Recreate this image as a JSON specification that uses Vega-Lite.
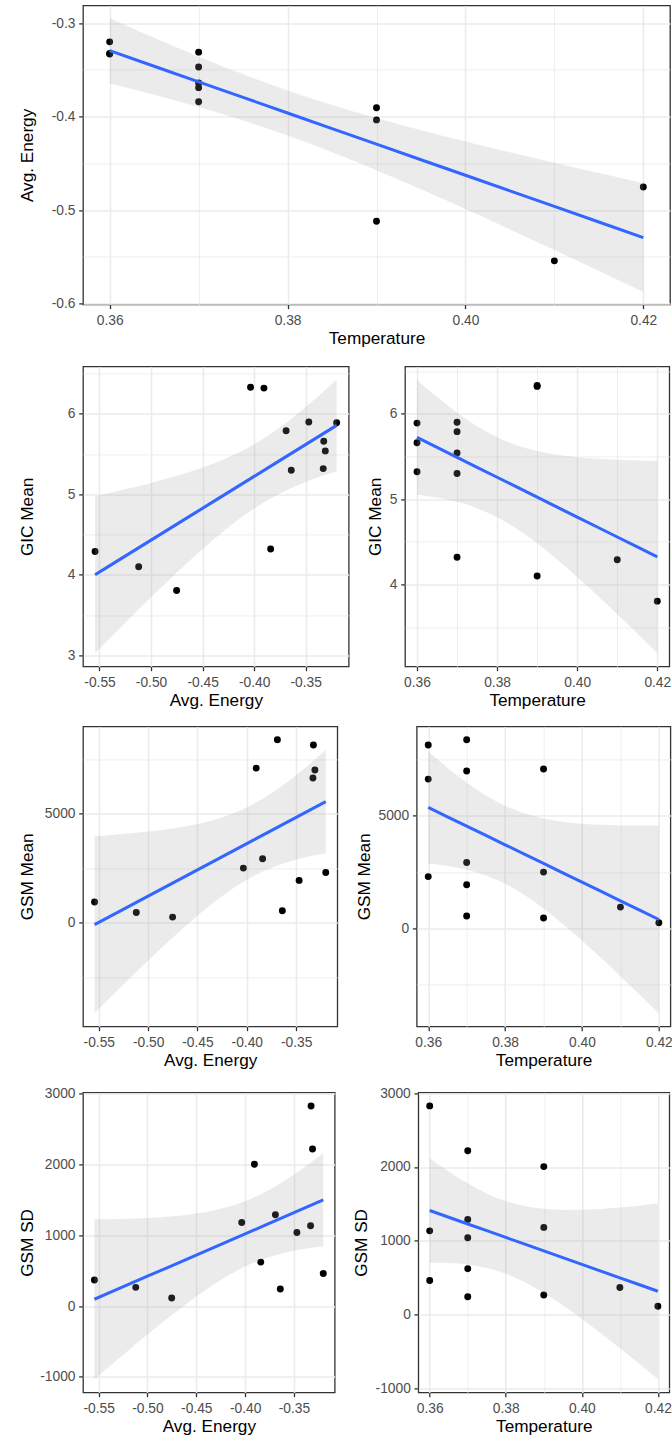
{
  "$schema": "https://vega.github.io/schema/vega-lite/v6.json",
  "background": "white",
  "padding": {"left": 17, "top": 4.4, "right": 2, "bottom": 2},
  "spacing": 8,
  "config": {
    "font": "Liberation Sans",
    "view": {"stroke": "#333333", "strokeWidth": 1.3},
    "axis": {
      "domain": false, "grid": true, "gridColor": "#EBEBEB",
      "tickColor": "#333333", "tickWidth": 1.3, "tickSize": 4.3,
      "labelColor": "#4D4D4D", "labelFontSize": 13.8, "labelFont": "Liberation Sans",
      "labelOverlap": false, "labelFlush": false,
      "titleFont": "Liberation Sans", "titleFontSize": 17.2, "titleFontWeight": "normal", "titleColor": "#000000",
      "titleBaseline": "alphabetic"
    },
    "axisX": {"labelPadding": 5, "titleY": 39, "labelAngle": 0},
    "axisY": {"labelPadding": 3.7}
  },
  "datasets": {
    "pts": [
      {"Temperature": 0.36, "Energy": -0.3325, "GIC": 5.66, "GSM": 8140, "SD": 2828},
      {"Temperature": 0.36, "Energy": -0.333, "GIC": 5.32, "GSM": 6630, "SD": 1134},
      {"Temperature": 0.36, "Energy": -0.32, "GIC": 5.89, "GSM": 2300, "SD": 461},
      {"Temperature": 0.37, "Energy": -0.331, "GIC": 5.54, "GSM": 6990, "SD": 2221},
      {"Temperature": 0.37, "Energy": -0.347, "GIC": 5.9, "GSM": 1937, "SD": 1040},
      {"Temperature": 0.37, "Energy": -0.369, "GIC": 5.79, "GSM": 8380, "SD": 1289},
      {"Temperature": 0.37, "Energy": -0.364, "GIC": 5.3, "GSM": 548, "SD": 240},
      {"Temperature": 0.37, "Energy": -0.384, "GIC": 4.32, "GSM": 2928, "SD": 621},
      {"Temperature": 0.39, "Energy": -0.3905, "GIC": 6.32, "GSM": 7080, "SD": 2005},
      {"Temperature": 0.39, "Energy": -0.4035, "GIC": 6.33, "GSM": 2500, "SD": 1181},
      {"Temperature": 0.39, "Energy": -0.512, "GIC": 4.1, "GSM": 466, "SD": 264},
      {"Temperature": 0.41, "Energy": -0.5543, "GIC": 4.29, "GSM": 946, "SD": 367},
      {"Temperature": 0.42, "Energy": -0.4752, "GIC": 3.806, "GSM": 255, "SD": 113}
    ],
    "bandT": [
      {"Temperature": 0.360, "e_fit": -0.32944, "e_lo": -0.36417, "e_hi": -0.29472, "g_fit": 5.7226, "g_lo": 5.0505, "g_hi": 6.3946, "m_fit": 5371.2, "m_lo": 2880.6, "m_hi": 7861.8, "s_fit": 1409.6, "s_lo": 700.0, "s_hi": 2119.2},
      {"Temperature": 0.365, "e_fit": -0.34611, "e_lo": -0.37650, "e_hi": -0.31571, "g_fit": 5.6060, "g_lo": 5.0178, "g_hi": 6.1943, "m_fit": 4956.7, "m_lo": 2776.7, "m_hi": 7136.7, "s_fit": 1318.4, "s_lo": 697.3, "s_hi": 1939.5},
      {"Temperature": 0.370, "e_fit": -0.36277, "e_lo": -0.38972, "e_hi": -0.33583, "g_fit": 5.4895, "g_lo": 4.9680, "g_hi": 6.0110, "m_fit": 4542.2, "m_lo": 2609.5, "m_hi": 6474.8, "s_fit": 1227.2, "s_lo": 676.6, "s_hi": 1777.8},
      {"Temperature": 0.375, "e_fit": -0.37944, "e_lo": -0.40419, "e_hi": -0.35469, "g_fit": 5.3729, "g_lo": 4.8939, "g_hi": 5.8520, "m_fit": 4127.7, "m_lo": 2352.4, "m_hi": 5902.9, "s_fit": 1136.0, "s_lo": 630.2, "s_hi": 1641.7},
      {"Temperature": 0.380, "e_fit": -0.39610, "e_lo": -0.42026, "e_hi": -0.37195, "g_fit": 5.2564, "g_lo": 4.7889, "g_hi": 5.7239, "m_fit": 3713.2, "m_lo": 1980.7, "m_hi": 5445.6, "s_fit": 1044.7, "s_lo": 551.2, "s_hi": 1538.3},
      {"Temperature": 0.385, "e_fit": -0.41277, "e_lo": -0.43804, "e_hi": -0.38750, "g_fit": 5.1398, "g_lo": 4.6508, "g_hi": 5.6289, "m_fit": 3298.6, "m_lo": 1486.2, "m_hi": 5111.1, "s_fit": 953.5, "s_lo": 437.2, "s_hi": 1469.9},
      {"Temperature": 0.390, "e_fit": -0.42943, "e_lo": -0.45732, "e_hi": -0.40154, "g_fit": 5.0233, "g_lo": 4.4835, "g_hi": 5.5631, "m_fit": 2884.1, "m_lo": 883.6, "m_hi": 4884.6, "s_fit": 862.3, "s_lo": 292.4, "s_hi": 1432.3},
      {"Temperature": 0.395, "e_fit": -0.44610, "e_lo": -0.47774, "e_hi": -0.41445, "g_fit": 4.9067, "g_lo": 4.2942, "g_hi": 5.5192, "m_fit": 2469.6, "m_lo": 199.7, "m_hi": 4739.5, "s_fit": 771.1, "s_lo": 124.4, "s_hi": 1417.8},
      {"Temperature": 0.400, "e_fit": -0.46276, "e_lo": -0.49895, "e_hi": -0.42657, "g_fit": 4.7902, "g_lo": 4.0898, "g_hi": 5.4905, "m_fit": 2055.1, "m_lo": -540.4, "m_hi": 4650.6, "s_fit": 679.9, "s_lo": -59.6, "s_hi": 1419.3},
      {"Temperature": 0.405, "e_fit": -0.47943, "e_lo": -0.52068, "e_hi": -0.43817, "g_fit": 4.6736, "g_lo": 3.8752, "g_hi": 5.4720, "m_fit": 1640.6, "m_lo": -1318.2, "m_hi": 4599.4, "s_fit": 588.7, "s_lo": -254.3, "s_hi": 1431.6},
      {"Temperature": 0.410, "e_fit": -0.49609, "e_lo": -0.54276, "e_hi": -0.44942, "g_fit": 4.5571, "g_lo": 3.6538, "g_hi": 5.4603, "m_fit": 1226.1, "m_lo": -2121.4, "m_hi": 4573.6, "s_fit": 497.5, "s_lo": -456.2, "s_hi": 1451.2},
      {"Temperature": 0.415, "e_fit": -0.51275, "e_lo": -0.56509, "e_hi": -0.46042, "g_fit": 4.4405, "g_lo": 3.4276, "g_hi": 5.4534, "m_fit": 811.6, "m_lo": -2942.1, "m_hi": 4565.3, "s_fit": 406.2, "s_lo": -663.2, "s_hi": 1475.7},
      {"Temperature": 0.420, "e_fit": -0.52942, "e_lo": -0.58759, "e_hi": -0.47125, "g_fit": 4.3240, "g_lo": 3.1981, "g_hi": 5.4498, "m_fit": 397.1, "m_lo": -3775.2, "m_hi": 4569.4, "s_fit": 315.0, "s_lo": -873.7, "s_hi": 1503.8}
    ],
    "bandE": [
      {"Energy": -0.5543, "g_fit": 4.0007, "g_lo": 3.0258, "g_hi": 4.9756, "m_fit": -87.6, "m_lo": -4136.5, "m_hi": 3961.2, "s_fit": 95.7, "s_lo": -1033.6, "s_hi": 1225.0},
      {"Energy": -0.54, "g_fit": 4.1140, "g_lo": 3.2108, "g_hi": 5.0172, "m_fit": 256.1, "m_lo": -3494.9, "m_hi": 4007.2, "s_fit": 181.4, "s_lo": -864.8, "s_hi": 1227.6},
      {"Energy": -0.52, "g_fit": 4.2724, "g_lo": 3.4672, "g_hi": 5.0777, "m_fit": 736.9, "m_lo": -2607.4, "m_hi": 4081.2, "s_fit": 301.2, "s_lo": -631.6, "s_hi": 1234.0},
      {"Energy": -0.50, "g_fit": 4.4309, "g_lo": 3.7198, "g_hi": 5.1420, "m_fit": 1217.7, "m_lo": -1735.5, "m_hi": 4170.9, "s_fit": 421.0, "s_lo": -402.7, "s_hi": 1244.7},
      {"Energy": -0.48, "g_fit": 4.5893, "g_lo": 3.9670, "g_hi": 5.2117, "m_fit": 1698.5, "m_lo": -886.4, "m_hi": 4283.3, "s_fit": 540.8, "s_lo": -180.1, "s_hi": 1261.8},
      {"Energy": -0.46, "g_fit": 4.7478, "g_lo": 4.2059, "g_hi": 5.2896, "m_fit": 2179.3, "m_lo": -71.1, "m_hi": 4429.6, "s_fit": 660.6, "s_lo": 33.0, "s_hi": 1288.3},
      {"Energy": -0.44, "g_fit": 4.9062, "g_lo": 4.4325, "g_hi": 5.3799, "m_fit": 2660.0, "m_lo": 692.8, "m_hi": 4627.3, "s_fit": 780.4, "s_lo": 231.7, "s_hi": 1329.1},
      {"Energy": -0.42, "g_fit": 5.0647, "g_lo": 4.6408, "g_hi": 5.4885, "m_fit": 3140.8, "m_lo": 1380.4, "m_hi": 4901.2, "s_fit": 900.3, "s_lo": 409.3, "s_hi": 1391.3},
      {"Energy": -0.40, "g_fit": 5.2231, "g_lo": 4.8238, "g_hi": 5.6225, "m_fit": 3621.6, "m_lo": 1963.0, "m_hi": 5280.2, "s_fit": 1020.1, "s_lo": 557.5, "s_hi": 1482.7},
      {"Energy": -0.38, "g_fit": 5.3816, "g_lo": 4.9768, "g_hi": 5.7863, "m_fit": 4102.4, "m_lo": 2421.4, "m_hi": 5783.4, "s_fit": 1139.9, "s_lo": 671.0, "s_hi": 1608.7},
      {"Energy": -0.36, "g_fit": 5.5400, "g_lo": 5.1011, "g_hi": 5.9790, "m_fit": 4583.1, "m_lo": 2760.1, "m_hi": 6406.2, "s_fit": 1259.7, "s_lo": 751.2, "s_hi": 1768.2},
      {"Energy": -0.34, "g_fit": 5.6985, "g_lo": 5.2024, "g_hi": 6.1945, "m_fit": 5063.9, "m_lo": 3003.8, "m_hi": 7124.1, "s_fit": 1379.5, "s_lo": 804.9, "s_hi": 1954.1},
      {"Energy": -0.32, "g_fit": 5.8569, "g_lo": 5.2877, "g_hi": 6.4261, "m_fit": 5544.7, "m_lo": 3180.8, "m_hi": 7908.6, "s_fit": 1499.3, "s_lo": 840.0, "s_hi": 2158.6}
    ]
  },
  "vconcat": [
    {
      "width": 587, "height": 299,
      "layer": [
        {"data": {"name": "pts"}, "mark": {"type": "point", "filled": true, "color": "#000000", "size": 48, "opacity": 1, "strokeWidth": 0},
         "encoding": {
           "x": {"field": "Temperature", "type": "quantitative", "title": "Temperature", "scale": {"domain": [0.357, 0.423], "nice": false, "zero": false},
             "axis": {"values": [0.36, 0.37, 0.38, 0.39, 0.4, 0.41, 0.42],
               "labelExpr": "abs(datum.value*50-round(datum.value*50))>0.1 ? '' : format(datum.value,'.2f')",
               "gridWidth": {"condition": {"test": "abs(datum.value*50-round(datum.value*50))>0.1", "value": 0.8}, "value": 1.5},
               "tickOpacity": {"condition": {"test": "abs(datum.value*50-round(datum.value*50))>0.1", "value": 0}, "value": 1}}},
           "y": {"field": "Energy", "type": "quantitative", "title": "Avg. Energy", "scale": {"domain": [-0.6009, -0.2810], "nice": false, "zero": false},
             "axis": {"titleX": -50.5, "values": [-0.6, -0.55, -0.5, -0.45, -0.4, -0.35, -0.3],
               "labelExpr": "abs(datum.value*10-round(datum.value*10))>0.1 ? '' : '-'+format(abs(datum.value),'.1f')",
               "gridWidth": {"condition": {"test": "abs(datum.value*10-round(datum.value*10))>0.1", "value": 0.8}, "value": 1.5},
               "tickOpacity": {"condition": {"test": "abs(datum.value*10-round(datum.value*10))>0.1", "value": 0}, "value": 1}}}
         }},
        {"data": {"name": "bandT"}, "mark": {"type": "area", "color": "#999999", "opacity": 0.2, "interpolate": "monotone"},
         "encoding": {
           "x": {"field": "Temperature", "type": "quantitative", "title": "Temperature", "scale": {"domain": [0.357, 0.423], "nice": false, "zero": false}},
           "y": {"field": "e_lo", "type": "quantitative", "title": "Avg. Energy", "scale": {"domain": [-0.6009, -0.2810], "nice": false, "zero": false}},
           "y2": {"field": "e_hi"}
         }},
        {"data": {"name": "bandT"}, "mark": {"type": "line", "color": "#3366FF", "strokeWidth": 3},
         "encoding": {
           "x": {"field": "Temperature", "type": "quantitative", "title": "Temperature", "scale": {"domain": [0.357, 0.423], "nice": false, "zero": false}},
           "y": {"field": "e_fit", "type": "quantitative", "title": "Avg. Energy", "scale": {"domain": [-0.6009, -0.2810], "nice": false, "zero": false}}
         }}
      ]
    },
    {
      "bounds": "flush", "spacing": 56,
      "hconcat": [
        {
          "width": 265.7, "height": 300,
          "title": {"text": " ", "fontSize": 1, "offset": 6.5, "frame": "group"},
          "layer": [
            {"data": {"name": "pts"}, "mark": {"type": "point", "filled": true, "color": "#000000", "size": 48, "opacity": 1, "strokeWidth": 0},
             "encoding": {
               "x": {"field": "Energy", "type": "quantitative", "title": "Avg. Energy", "scale": {"domain": [-0.566, -0.3083], "nice": false, "zero": false},
                 "axis": {"values": [-0.55, -0.525, -0.5, -0.475, -0.45, -0.425, -0.4, -0.375, -0.35, -0.325],
                   "labelExpr": "abs(datum.value*20-round(datum.value*20))>0.1 ? '' : '-'+format(abs(datum.value),'.2f')",
                   "gridWidth": {"condition": {"test": "abs(datum.value*20-round(datum.value*20))>0.1", "value": 0.8}, "value": 1.5},
                   "tickOpacity": {"condition": {"test": "abs(datum.value*20-round(datum.value*20))>0.1", "value": 0}, "value": 1}}},
               "y": {"field": "GIC", "type": "quantitative", "title": "GIC Mean", "scale": {"domain": [2.862, 6.59], "nice": false, "zero": false},
                 "axis": {"titleX": -50.5, "values": [3, 3.5, 4, 4.5, 5, 5.5, 6, 6.5],
                   "labelExpr": "abs(datum.value-round(datum.value))>0.1 ? '' : format(datum.value,'.0f')",
                   "gridWidth": {"condition": {"test": "abs(datum.value-round(datum.value))>0.1", "value": 0.8}, "value": 1.5},
                   "tickOpacity": {"condition": {"test": "abs(datum.value-round(datum.value))>0.1", "value": 0}, "value": 1}}}
             }},
            {"data": {"name": "bandE"}, "mark": {"type": "area", "color": "#999999", "opacity": 0.2, "interpolate": "monotone"},
             "encoding": {
               "x": {"field": "Energy", "type": "quantitative", "title": "Avg. Energy", "scale": {"domain": [-0.566, -0.3083], "nice": false, "zero": false}},
               "y": {"field": "g_lo", "type": "quantitative", "title": "GIC Mean", "scale": {"domain": [2.862, 6.59], "nice": false, "zero": false}},
               "y2": {"field": "g_hi"}
             }},
            {"data": {"name": "bandE"}, "mark": {"type": "line", "color": "#3366FF", "strokeWidth": 3},
             "encoding": {
               "x": {"field": "Energy", "type": "quantitative", "title": "Avg. Energy", "scale": {"domain": [-0.566, -0.3083], "nice": false, "zero": false}},
               "y": {"field": "g_fit", "type": "quantitative", "title": "GIC Mean", "scale": {"domain": [2.862, 6.59], "nice": false, "zero": false}}
             }}
          ]
        },
        {
          "width": 264.3, "height": 300,
          "title": {"text": " ", "fontSize": 1, "offset": 6.5, "frame": "group"},
          "layer": [
            {"data": {"name": "pts"}, "mark": {"type": "point", "filled": true, "color": "#000000", "size": 48, "opacity": 1, "strokeWidth": 0},
             "encoding": {
               "x": {"field": "Temperature", "type": "quantitative", "title": "Temperature", "scale": {"domain": [0.357, 0.423], "nice": false, "zero": false},
                 "axis": {"values": [0.36, 0.37, 0.38, 0.39, 0.4, 0.41, 0.42],
                   "labelExpr": "abs(datum.value*50-round(datum.value*50))>0.1 ? '' : format(datum.value,'.2f')",
                   "gridWidth": {"condition": {"test": "abs(datum.value*50-round(datum.value*50))>0.1", "value": 0.8}, "value": 1.5},
                   "tickOpacity": {"condition": {"test": "abs(datum.value*50-round(datum.value*50))>0.1", "value": 0}, "value": 1}}},
               "y": {"field": "GIC", "type": "quantitative", "title": "GIC Mean", "scale": {"domain": [3.042, 6.554], "nice": false, "zero": false},
                 "axis": {"titleX": -24.7, "values": [3.5, 4, 4.5, 5, 5.5, 6, 6.5],
                   "labelExpr": "abs(datum.value-round(datum.value))>0.1 ? '' : format(datum.value,'.0f')",
                   "gridWidth": {"condition": {"test": "abs(datum.value-round(datum.value))>0.1", "value": 0.8}, "value": 1.5},
                   "tickOpacity": {"condition": {"test": "abs(datum.value-round(datum.value))>0.1", "value": 0}, "value": 1}}}
             }},
            {"data": {"name": "bandT"}, "mark": {"type": "area", "color": "#999999", "opacity": 0.2, "interpolate": "monotone"},
             "encoding": {
               "x": {"field": "Temperature", "type": "quantitative", "title": "Temperature", "scale": {"domain": [0.357, 0.423], "nice": false, "zero": false}},
               "y": {"field": "g_lo", "type": "quantitative", "title": "GIC Mean", "scale": {"domain": [3.042, 6.554], "nice": false, "zero": false}},
               "y2": {"field": "g_hi"}
             }},
            {"data": {"name": "bandT"}, "mark": {"type": "line", "color": "#3366FF", "strokeWidth": 3},
             "encoding": {
               "x": {"field": "Temperature", "type": "quantitative", "title": "Temperature", "scale": {"domain": [0.357, 0.423], "nice": false, "zero": false}},
               "y": {"field": "g_fit", "type": "quantitative", "title": "GIC Mean", "scale": {"domain": [3.042, 6.554], "nice": false, "zero": false}}
             }}
          ]
        }
      ]
    },
    {
      "bounds": "flush", "spacing": 78.7,
      "hconcat": [
        {
          "width": 254.3, "height": 300,
          "title": {"text": " ", "fontSize": 1, "offset": 6.5, "frame": "group"},
          "layer": [
            {"data": {"name": "pts"}, "mark": {"type": "point", "filled": true, "color": "#000000", "size": 48, "opacity": 1, "strokeWidth": 0},
             "encoding": {
               "x": {"field": "Energy", "type": "quantitative", "title": "Avg. Energy", "scale": {"domain": [-0.566, -0.3083], "nice": false, "zero": false},
                 "axis": {"values": [-0.55, -0.525, -0.5, -0.475, -0.45, -0.425, -0.4, -0.375, -0.35, -0.325],
                   "labelExpr": "abs(datum.value*20-round(datum.value*20))>0.1 ? '' : '-'+format(abs(datum.value),'.2f')",
                   "gridWidth": {"condition": {"test": "abs(datum.value*20-round(datum.value*20))>0.1", "value": 0.8}, "value": 1.5},
                   "tickOpacity": {"condition": {"test": "abs(datum.value*20-round(datum.value*20))>0.1", "value": 0}, "value": 1}}},
               "y": {"field": "GSM", "type": "quantitative", "title": "GSM Mean", "scale": {"domain": [-4750, 8990], "nice": false, "zero": false},
                 "axis": {"titleX": -50.5, "values": [-2500, 0, 2500, 5000, 7500],
                   "labelExpr": "abs(datum.value/5000-round(datum.value/5000))>0.1 ? '' : format(datum.value,'.0f')",
                   "gridWidth": {"condition": {"test": "abs(datum.value/5000-round(datum.value/5000))>0.1", "value": 0.8}, "value": 1.5},
                   "tickOpacity": {"condition": {"test": "abs(datum.value/5000-round(datum.value/5000))>0.1", "value": 0}, "value": 1}}}
             }},
            {"data": {"name": "bandE"}, "mark": {"type": "area", "color": "#999999", "opacity": 0.2, "interpolate": "monotone"},
             "encoding": {
               "x": {"field": "Energy", "type": "quantitative", "title": "Avg. Energy", "scale": {"domain": [-0.566, -0.3083], "nice": false, "zero": false}},
               "y": {"field": "m_lo", "type": "quantitative", "title": "GSM Mean", "scale": {"domain": [-4750, 8990], "nice": false, "zero": false}},
               "y2": {"field": "m_hi"}
             }},
            {"data": {"name": "bandE"}, "mark": {"type": "line", "color": "#3366FF", "strokeWidth": 3},
             "encoding": {
               "x": {"field": "Energy", "type": "quantitative", "title": "Avg. Energy", "scale": {"domain": [-0.566, -0.3083], "nice": false, "zero": false}},
               "y": {"field": "m_fit", "type": "quantitative", "title": "GSM Mean", "scale": {"domain": [-4750, 8990], "nice": false, "zero": false}}
             }}
          ]
        },
        {
          "width": 253.7, "height": 300,
          "title": {"text": " ", "fontSize": 1, "offset": 6.5, "frame": "group"},
          "layer": [
            {"data": {"name": "pts"}, "mark": {"type": "point", "filled": true, "color": "#000000", "size": 48, "opacity": 1, "strokeWidth": 0},
             "encoding": {
               "x": {"field": "Temperature", "type": "quantitative", "title": "Temperature", "scale": {"domain": [0.357, 0.423], "nice": false, "zero": false},
                 "axis": {"values": [0.36, 0.37, 0.38, 0.39, 0.4, 0.41, 0.42],
                   "labelExpr": "abs(datum.value*50-round(datum.value*50))>0.1 ? '' : format(datum.value,'.2f')",
                   "gridWidth": {"condition": {"test": "abs(datum.value*50-round(datum.value*50))>0.1", "value": 0.8}, "value": 1.5},
                   "tickOpacity": {"condition": {"test": "abs(datum.value*50-round(datum.value*50))>0.1", "value": 0}, "value": 1}}},
               "y": {"field": "GSM", "type": "quantitative", "title": "GSM Mean", "scale": {"domain": [-4350, 8970], "nice": false, "zero": false},
                 "axis": {"titleX": -46.7, "values": [-2500, 0, 2500, 5000, 7500],
                   "labelExpr": "abs(datum.value/5000-round(datum.value/5000))>0.1 ? '' : format(datum.value,'.0f')",
                   "gridWidth": {"condition": {"test": "abs(datum.value/5000-round(datum.value/5000))>0.1", "value": 0.8}, "value": 1.5},
                   "tickOpacity": {"condition": {"test": "abs(datum.value/5000-round(datum.value/5000))>0.1", "value": 0}, "value": 1}}}
             }},
            {"data": {"name": "bandT"}, "mark": {"type": "area", "color": "#999999", "opacity": 0.2, "interpolate": "monotone"},
             "encoding": {
               "x": {"field": "Temperature", "type": "quantitative", "title": "Temperature", "scale": {"domain": [0.357, 0.423], "nice": false, "zero": false}},
               "y": {"field": "m_lo", "type": "quantitative", "title": "GSM Mean", "scale": {"domain": [-4350, 8970], "nice": false, "zero": false}},
               "y2": {"field": "m_hi"}
             }},
            {"data": {"name": "bandT"}, "mark": {"type": "line", "color": "#3366FF", "strokeWidth": 3},
             "encoding": {
               "x": {"field": "Temperature", "type": "quantitative", "title": "Temperature", "scale": {"domain": [0.357, 0.423], "nice": false, "zero": false}},
               "y": {"field": "m_fit", "type": "quantitative", "title": "GSM Mean", "scale": {"domain": [-4350, 8970], "nice": false, "zero": false}}
             }}
          ]
        }
      ]
    },
    {
      "bounds": "flush", "spacing": 83.3,
      "hconcat": [
        {
          "width": 251.7, "height": 300,
          "title": {"text": " ", "fontSize": 1, "offset": 6.5, "frame": "group"},
          "layer": [
            {"data": {"name": "pts"}, "mark": {"type": "point", "filled": true, "color": "#000000", "size": 48, "opacity": 1, "strokeWidth": 0},
             "encoding": {
               "x": {"field": "Energy", "type": "quantitative", "title": "Avg. Energy", "scale": {"domain": [-0.566, -0.3083], "nice": false, "zero": false},
                 "axis": {"values": [-0.55, -0.525, -0.5, -0.475, -0.45, -0.425, -0.4, -0.375, -0.35, -0.325],
                   "labelExpr": "abs(datum.value*20-round(datum.value*20))>0.1 ? '' : '-'+format(abs(datum.value),'.2f')",
                   "gridWidth": {"condition": {"test": "abs(datum.value*20-round(datum.value*20))>0.1", "value": 0.8}, "value": 1.5},
                   "tickOpacity": {"condition": {"test": "abs(datum.value*20-round(datum.value*20))>0.1", "value": 0}, "value": 1}}},
               "y": {"field": "SD", "type": "quantitative", "title": "GSM SD", "scale": {"domain": [-1221, 3020], "nice": false, "zero": false},
                 "axis": {"titleX": -50.5, "values": [-1000, -500, 0, 500, 1000, 1500, 2000, 2500, 3000],
                   "labelExpr": "abs(datum.value/1000-round(datum.value/1000))>0.1 ? '' : (datum.value<0 ? '-' : '')+format(abs(datum.value),'.0f')",
                   "gridWidth": {"condition": {"test": "abs(datum.value/1000-round(datum.value/1000))>0.1", "value": 0.8}, "value": 1.5},
                   "tickOpacity": {"condition": {"test": "abs(datum.value/1000-round(datum.value/1000))>0.1", "value": 0}, "value": 1}}}
             }},
            {"data": {"name": "bandE"}, "mark": {"type": "area", "color": "#999999", "opacity": 0.2, "interpolate": "monotone"},
             "encoding": {
               "x": {"field": "Energy", "type": "quantitative", "title": "Avg. Energy", "scale": {"domain": [-0.566, -0.3083], "nice": false, "zero": false}},
               "y": {"field": "s_lo", "type": "quantitative", "title": "GSM SD", "scale": {"domain": [-1221, 3020], "nice": false, "zero": false}},
               "y2": {"field": "s_hi"}
             }},
            {"data": {"name": "bandE"}, "mark": {"type": "line", "color": "#3366FF", "strokeWidth": 3},
             "encoding": {
               "x": {"field": "Energy", "type": "quantitative", "title": "Avg. Energy", "scale": {"domain": [-0.566, -0.3083], "nice": false, "zero": false}},
               "y": {"field": "s_fit", "type": "quantitative", "title": "GSM SD", "scale": {"domain": [-1221, 3020], "nice": false, "zero": false}}
             }}
          ]
        },
        {
          "width": 251, "height": 300,
          "title": {"text": " ", "fontSize": 1, "offset": 6.5, "frame": "group"},
          "layer": [
            {"data": {"name": "pts"}, "mark": {"type": "point", "filled": true, "color": "#000000", "size": 48, "opacity": 1, "strokeWidth": 0},
             "encoding": {
               "x": {"field": "Temperature", "type": "quantitative", "title": "Temperature", "scale": {"domain": [0.357, 0.423], "nice": false, "zero": false},
                 "axis": {"values": [0.36, 0.37, 0.38, 0.39, 0.4, 0.41, 0.42],
                   "labelExpr": "abs(datum.value*50-round(datum.value*50))>0.1 ? '' : format(datum.value,'.2f')",
                   "gridWidth": {"condition": {"test": "abs(datum.value*50-round(datum.value*50))>0.1", "value": 0.8}, "value": 1.5},
                   "tickOpacity": {"condition": {"test": "abs(datum.value*50-round(datum.value*50))>0.1", "value": 0}, "value": 1}}},
               "y": {"field": "SD", "type": "quantitative", "title": "GSM SD", "scale": {"domain": [-1056, 3011], "nice": false, "zero": false},
                 "axis": {"titleX": -51.7, "values": [-1000, -500, 0, 500, 1000, 1500, 2000, 2500, 3000],
                   "labelExpr": "abs(datum.value/1000-round(datum.value/1000))>0.1 ? '' : (datum.value<0 ? '-' : '')+format(abs(datum.value),'.0f')",
                   "gridWidth": {"condition": {"test": "abs(datum.value/1000-round(datum.value/1000))>0.1", "value": 0.8}, "value": 1.5},
                   "tickOpacity": {"condition": {"test": "abs(datum.value/1000-round(datum.value/1000))>0.1", "value": 0}, "value": 1}}}
             }},
            {"data": {"name": "bandT"}, "mark": {"type": "area", "color": "#999999", "opacity": 0.2, "interpolate": "monotone"},
             "encoding": {
               "x": {"field": "Temperature", "type": "quantitative", "title": "Temperature", "scale": {"domain": [0.357, 0.423], "nice": false, "zero": false}},
               "y": {"field": "s_lo", "type": "quantitative", "title": "GSM SD", "scale": {"domain": [-1056, 3011], "nice": false, "zero": false}},
               "y2": {"field": "s_hi"}
             }},
            {"data": {"name": "bandT"}, "mark": {"type": "line", "color": "#3366FF", "strokeWidth": 3},
             "encoding": {
               "x": {"field": "Temperature", "type": "quantitative", "title": "Temperature", "scale": {"domain": [0.357, 0.423], "nice": false, "zero": false}},
               "y": {"field": "s_fit", "type": "quantitative", "title": "GSM SD", "scale": {"domain": [-1056, 3011], "nice": false, "zero": false}}
             }}
          ]
        }
      ]
    }
  ]
}
